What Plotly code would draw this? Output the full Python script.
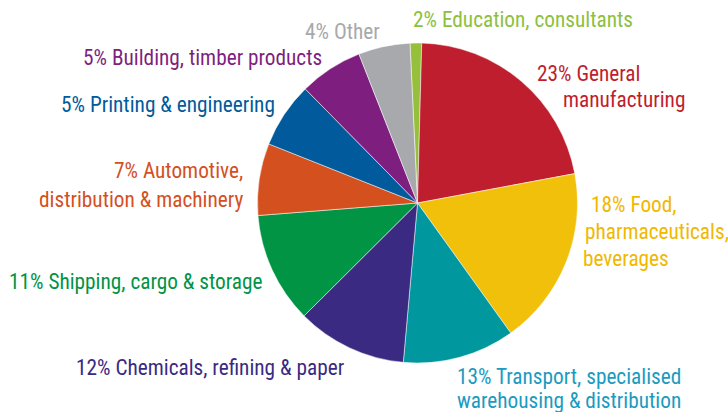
import plotly.graph_objects as go

categories = ["Education, consultants", "General manufacturing", "Food, pharmaceuticals, beverages",
              "Transport, specialised warehousing & distribution", "Chemicals, refining & paper",
              "Shipping, cargo & storage", "Automotive, distribution & machinery",
              "Printing & engineering", "Building, timber products", "Other"]
# slice shares as drawn in the picture (degrees of arc / 3.6)
values = [1.17, 21.6, 18.0, 11.3, 11.1, 11.2, 7.25, 6.6, 6.4, 5.2]
slice_colors = ["#96C03C", "#BE1E2D", "#F0C00A", "#00979F", "#3B2A82",
                "#009444", "#D4501F", "#005A9C", "#7E1F80", "#A7A9AC"]
text_colors = ["#8DC03F", "#BE1E2D", "#F0B800", "#1A9BBF", "#3B2A82",
               "#009444", "#D4501F", "#005A9C", "#7E1F80", "#A7A9AC"]
label_lines = [
    ["2% Education, consultants"],
    ["23% General", "manufacturing"],
    ["18% Food,", "pharmaceuticals,", "beverages"],
    ["13% Transport, specialised", "warehousing & distribution"],
    ["12% Chemicals, refining & paper"],
    ["11% Shipping, cargo & storage"],
    ["7% Automotive,", "distribution & machinery"],
    ["5% Printing & engineering"],
    ["5% Building, timber products"],
    ["4% Other"],
]

W, H = 728, 412
# label line placements (pixel anchor x, y, anchor side)
placements = [
    [(411, 20, "left")],
    [(535, 73, "left"), (561, 99, "left")],
    [(589, 204, "left"), (583, 231, "left"), (581, 258, "left")],
    [(455, 376, "left"), (455, 400, "left")],
    [(74, 367, "left")],
    [(7, 281, "left")],
    [(245, 171, "right"), (245, 199, "right")],
    [(59, 104, "left")],
    [(81, 58, "left")],
    [(303, 32, "left")],
]

FONT = "Roboto Condensed, Liberation Sans Narrow, Roboto, sans-serif"

fig = go.Figure(go.Pie(
    labels=categories, values=values, sort=False, direction="clockwise",
    rotation=-2.7, textinfo="none", hoverinfo="label+percent",
    marker=dict(colors=slice_colors, line=dict(color="white", width=0.5)),
    domain=dict(x=[257.5 / W, 577.5 / W], y=[1 - 363 / H, 1 - 43 / H]),
    showlegend=False,
))

annotations = []
for lines, places, col in zip(label_lines, placements, text_colors):
    for text, (px, py, side) in zip(lines, places):
        annotations.append(dict(
            text=text, x=px / W, y=1 - py / H, xref="paper", yref="paper",
            xanchor=side, yanchor="middle", showarrow=False,
            font=dict(family=FONT, size=21.3, color=col),
        ))

fig.update_layout(
    width=W, height=H, margin=dict(l=0, r=0, t=0, b=0),
    paper_bgcolor="white", plot_bgcolor="white",
    annotations=annotations,
)
fig.write_html("out.html", config={"displayModeBar": False},
               post_script="document.body.style.margin='0';document.body.style.overflow='hidden';")
